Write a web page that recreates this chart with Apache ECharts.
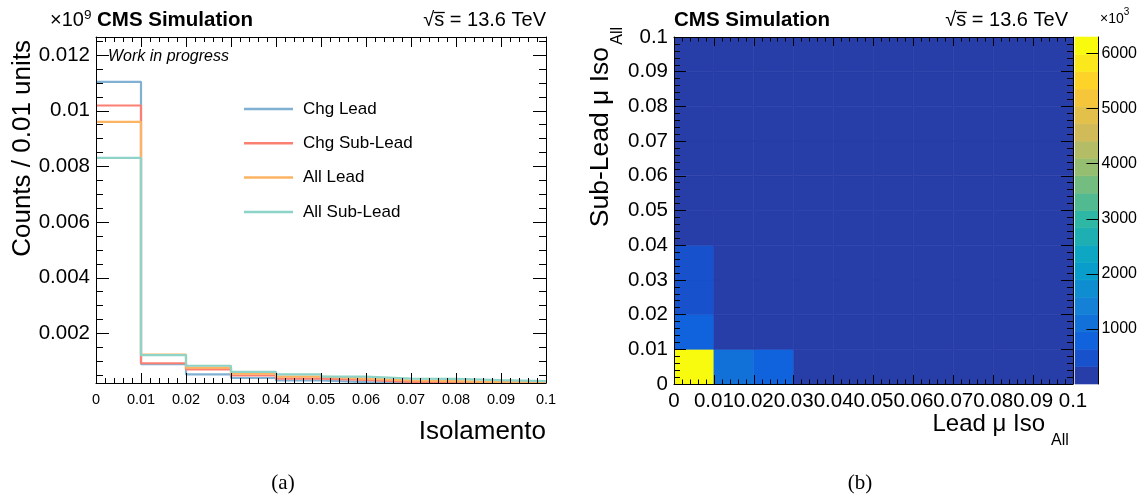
<!DOCTYPE html>
<html>
<head>
<meta charset="utf-8">
<script src="https://cdn.jsdelivr.net/npm/echarts@6/dist/echarts.min.js"></script>
<style>
  html, body { margin: 0; padding: 0; background: #fff; }
  #chart { width: 1140px; height: 497px; }
</style>
</head>
<body>
<div id="chart"></div>
<script>
// ---- data ---------------------------------------------------------------
// isolation bin edges (shared by both panels)
const isoEdges = [0, 0.01, 0.02, 0.03, 0.04, 0.05, 0.06, 0.07, 0.08, 0.09, 0.1];

// counts / 0.01 units (x 10^9), one value per isolation bin
const chgLead    = [0.01104, 0.00090, 0.00053, 0.00040, 0.00031, 0.00025, 0.00023, 0.00022, 0.00021, 0.00021];
const chgSubLead = [0.01019, 0.00093, 0.00071, 0.00049, 0.00038, 0.00033, 0.00026, 0.00025, 0.00024, 0.00023];
const allLead    = [0.00960, 0.00124, 0.00077, 0.00056, 0.00045, 0.00038, 0.00031, 0.00029, 0.00025, 0.00024];
const allSubLead = [0.00831, 0.00122, 0.00084, 0.00062, 0.00053, 0.00045, 0.00038, 0.00037, 0.00032, 0.00029];
const seriesNames = ['Chg Lead', 'Chg Sub-Lead', 'All Lead', 'All Sub-Lead'];

// left panel y-axis tick labels
const countTicks = [0.002, 0.004, 0.006, 0.008, 0.01, 0.012];

// lead vs sub-lead isolation (x 10^3); rows = sub-lead bin, columns = lead bin
const subLeadByLead = [
  [6300, 1050, 800, 240, 170, 130, 100, 80, 65, 55],
  [ 850,  210, 120,  80,  60,  45,  35, 30, 25, 20],
  [ 520,  110,  70,  50,  38,  30,  24, 20, 17, 14],
  [ 430,   80,  50,  36,  28,  22,  18, 15, 12, 10],
  [ 260,   60,  38,  28,  22,  17,  14, 12, 10,  8],
  [ 190,   45,  30,  22,  17,  14,  11,  9,  8,  7],
  [ 150,   36,  24,  18,  14,  11,   9,  8,  7,  6],
  [ 120,   30,  20,  15,  12,   9,   8,  7,  6,  5],
  [ 100,   25,  17,  13,  10,   8,   7,  6,  5,  4],
  [  85,   21,  14,  11,   9,   7,   6,  5,  4,  4]
];
const colorbarTicks = [1000, 2000, 3000, 4000, 5000, 6000];

// ---- styling ------------------------------------------------------------
const FONT = '"Liberation Sans", Arial, Helvetica, sans-serif';
const SERIF = '"Liberation Serif", "DejaVu Serif", serif';
const lineColors = ['#80b1d3', '#fb8072', '#fdb462', '#8dd3c7'];
const countMin = 0.00022, countMax = 0.01265;
const zMax = 6300, zLevels = 20;

// ROOT "bird" palette
const birdStops = [0, 0.125, 0.25, 0.375, 0.5, 0.625, 0.75, 0.875, 1];
const birdR = [0.2082, 0.0592, 0.0780, 0.0232, 0.1802, 0.5301, 0.8186, 0.9956, 0.9764];
const birdG = [0.1664, 0.3599, 0.5041, 0.6419, 0.7178, 0.7492, 0.7328, 0.7862, 0.9832];
const birdB = [0.5293, 0.8684, 0.8385, 0.7914, 0.6425, 0.4662, 0.3499, 0.1968, 0.0539];
function bird(f) {
  let k = 0;
  while (k < birdStops.length - 2 && f > birdStops[k + 1]) k++;
  const t = (f - birdStops[k]) / (birdStops[k + 1] - birdStops[k]);
  const mix = a => Math.round(255 * (a[k] + (a[k + 1] - a[k]) * t));
  return 'rgb(' + mix(birdR) + ',' + mix(birdG) + ',' + mix(birdB) + ')';
}
function bandColor(i) {
  const idx = Math.floor((i + 0.99) * 255 / zLevels);
  return bird(idx / 254);
}
function bandOf(v) {
  return Math.max(0, Math.min(zLevels - 1, Math.floor(v / zMax * zLevels)));
}

// minor tick positions for the left panel y-axis
const countMinor = [];
for (let k = 1; k * 0.0005 < countMax; k++) countMinor.push(+(k * 0.0005).toFixed(4));

// ---- series data --------------------------------------------------------
function stepPoints(vals) {
  return isoEdges.map((e, i) => [e, vals[Math.min(i, vals.length - 1)]]);
}
const histSeries = [chgLead, chgSubLead, allLead, allSubLead].map((vals, k) => ({
  name: seriesNames[k],
  type: 'line',
  xAxisIndex: 0,
  yAxisIndex: 0,
  step: 'end',
  showSymbol: false,
  symbol: 'none',
  clip: true,
  data: stepPoints(vals),
  itemStyle: { color: lineColors[k] },
  lineStyle: { color: lineColors[k], width: 2.2 },
  z: 3 + k
}));

const heatData = [];
subLeadByLead.forEach((row, j) => row.forEach((v, i) => {
  heatData.push([isoEdges[i], isoEdges[j], isoEdges[i + 1], isoEdges[j + 1], v]);
}));

const bandData = [];
for (let i = 0; i < zLevels; i++) bandData.push([0, zMax * i / zLevels, 1, zMax * (i + 1) / zLevels, i]);

// ---- axes helpers -------------------------------------------------------
const black = { color: '#000', width: 1 };
function valueAxis(extra) {
  return Object.assign({
    type: 'value',
    z: 10,
    splitLine: { show: false },
    axisLine: { show: true, onZero: false, lineStyle: black },
    axisTick: { show: true, inside: true, lineStyle: black },
    minorTick: { show: false },
    axisLabel: { show: false },
    axisPointer: { show: false }
  }, extra);
}

const isoX = (grid, pos, labelSize, labelMargin, majorLen, minorLen, withLabels) => valueAxis({
  gridIndex: grid, position: pos, min: 0, max: 0.1, interval: 0.01,
  axisTick: { show: true, inside: true, length: majorLen, lineStyle: black },
  minorTick: { show: true, splitNumber: 5, length: minorLen, lineStyle: black },
  axisLabel: {
    show: withLabels, fontFamily: FONT, fontSize: labelSize, color: '#000', margin: labelMargin
  }
});

const isoY = (grid, pos, withLabels) => valueAxis({
  gridIndex: grid, position: pos, min: 0, max: 0.1, interval: 0.01,
  axisTick: { show: true, inside: true, length: 12, lineStyle: black },
  minorTick: { show: true, splitNumber: 5, length: 6, lineStyle: black },
  axisLabel: { show: withLabels, fontFamily: FONT, fontSize: 20.5, color: '#000', margin: 6 }
});

const countY = (pos, ticks, len, withLabels) => valueAxis({
  gridIndex: 0, position: pos, min: countMin, max: countMax,
  axisLine: { show: len > 8, onZero: false, lineStyle: black },
  axisTick: { show: true, inside: true, length: len, lineStyle: black, customValues: ticks },
  axisLabel: {
    show: withLabels, fontFamily: FONT, fontSize: 20.5, color: '#000', margin: 6,
    customValues: ticks
  }
});

// ---- text helpers -------------------------------------------------------
const measureCtx = document.createElement('canvas').getContext('2d');
function textWidth(text, size, weight, style) {
  measureCtx.font = (style || 'normal') + ' ' + (weight || 'normal') + ' ' + size + 'px ' + FONT;
  return measureCtx.measureText(text).width;
}
function label(text, x, y, size, opts) {
  opts = opts || {};
  return {
    type: 'text', x: x, y: y, rotation: opts.rotation || 0, z: 20,
    style: {
      text: text, fill: '#000', fontFamily: opts.family || FONT, fontSize: size,
      fontWeight: opts.weight || 'normal', fontStyle: opts.style || 'normal',
      align: opts.align || 'left', verticalAlign: opts.valign || 'middle'
    }
  };
}
// "√s = 13.6 TeV" right-aligned at xr, with the bar of the root over the s
function energyLabel(xr, y, size) {
  const full = '\u221As = 13.6 TeV';
  const w = textWidth(full, size);
  const xs = xr - w + textWidth('\u221A', size);
  const ws = textWidth('s', size);
  const yTop = y - 0.375 * size;
  return [
    label(full, xr, y, size, { align: 'right' }),
    { type: 'line', z: 20, shape: { x1: xs - 0.5, y1: yTop, x2: xs + ws + 0.5, y2: yTop },
      style: { stroke: '#000', lineWidth: 1.3 } }
  ];
}

const graphics = [].concat(
  // left panel header
  label('\u00D710', 50, 20, 20),
  label('9', 50 + textWidth('\u00D710', 20), 15, 13.5),
  label('CMS Simulation', 97, 20, 20.5, { weight: 'bold' }),
  energyLabel(546, 20, 20),
  label('Work in progress', 108, 57, 16, { style: 'italic' }),
  // left panel axis titles
  label('Isolamento', 546, 432, 26, { align: 'right' }),
  label('Counts / 0.01 units', 23, 40, 26, { align: 'right', rotation: Math.PI / 2 }),
  // right panel header
  label('CMS Simulation', 674, 20, 20.5, { weight: 'bold' }),
  energyLabel(1068, 20, 20),
  // right panel axis titles
  label('Lead \u03BC Iso', 1045, 424, 24, { align: 'right' }),
  label('All', 1051, 441, 16),
  label('Sub-Lead \u03BC Iso', 601, 47, 26.5, { align: 'right', rotation: Math.PI / 2 }),
  label('All', 618, 27, 16, { align: 'right', rotation: Math.PI / 2 }),
  // colour scale exponent
  label('\u00D710', 1100, 19, 14),
  label('3', 1100 + textWidth('\u00D710', 14), 12, 10),
  // sub-figure captions
  label('(a)', 283, 483, 21, { align: 'center', family: SERIF }),
  label('(b)', 860, 483, 21, { align: 'center', family: SERIF })
);

// ---- chart --------------------------------------------------------------
const chart = echarts.init(document.getElementById('chart'), null, { renderer: 'canvas' });
chart.setOption({
  animation: false,
  backgroundColor: '#fff',
  grid: [
    { left: 96, top: 37, width: 450, height: 346 },
    { left: 674, top: 37, width: 399, height: 347 },
    { left: 1075, top: 37, width: 25.5, height: 347 }
  ],
  legend: {
    data: seriesNames,
    orient: 'vertical',
    left: 244,
    top: 99,
    icon: 'rect',
    itemWidth: 49,
    itemHeight: 2.5,
    itemGap: 14.3,
    padding: 0,
    selectedMode: false,
    textStyle: { fontFamily: FONT, fontSize: 17, color: '#000', padding: [0, 0, 0, 5], lineHeight: 20 }
  },
  xAxis: [
    isoX(0, 'bottom', 14.5, 9, 10, 5, true),
    isoX(0, 'top', 14.5, 9, 10, 5, false),
    isoX(1, 'bottom', 20.5, 7, 9, 4.5, true),
    isoX(1, 'top', 20.5, 7, 9, 4.5, false),
    valueAxis({ gridIndex: 2, min: 0, max: 1, show: false })
  ],
  yAxis: [
    countY('left', countTicks, 13, true),
    countY('right', countTicks, 13, false),
    countY('left', countMinor, 7, false),
    countY('right', countMinor, 7, false),
    isoY(1, 'left', true),
    isoY(1, 'right', false),
    valueAxis({
      gridIndex: 2, position: 'right', min: 0, max: zMax,
      axisLine: { show: true, onZero: false, lineStyle: black },
      axisTick: { show: true, inside: true, length: 12, lineStyle: black, customValues: colorbarTicks },
      axisLabel: {
        show: true, fontFamily: FONT, fontSize: 16, color: '#000', margin: 3,
        customValues: colorbarTicks, formatter: v => String(v)
      }
    })
  ],
  series: histSeries.concat([
    {
      type: 'custom',
      xAxisIndex: 2,
      yAxisIndex: 4,
      encode: { x: [0, 2], y: [1, 3] },
      data: heatData,
      clip: true,
      renderItem: function (params, api) {
        const p0 = api.coord([api.value(0), api.value(1)]);
        const p1 = api.coord([api.value(2), api.value(3)]);
        const c = bandColor(bandOf(api.value(4)));
        return {
          type: 'rect',
          shape: { x: p0[0], y: p1[1], width: p1[0] - p0[0], height: p0[1] - p1[1] },
          style: { fill: c, stroke: c, lineWidth: 0.6 }
        };
      },
      z: 2
    },
    {
      type: 'custom',
      xAxisIndex: 4,
      yAxisIndex: 6,
      encode: { x: [0, 2], y: [1, 3] },
      data: bandData,
      renderItem: function (params, api) {
        const p0 = api.coord([api.value(0), api.value(1)]);
        const p1 = api.coord([api.value(2), api.value(3)]);
        const c = bandColor(api.value(4));
        return {
          type: 'rect',
          shape: { x: p0[0], y: p1[1], width: p1[0] - p0[0], height: p0[1] - p1[1] },
          style: { fill: c, stroke: c, lineWidth: 0.6 }
        };
      },
      z: 2
    }
  ]),
  graphic: graphics
});
</script>
</body>
</html>
